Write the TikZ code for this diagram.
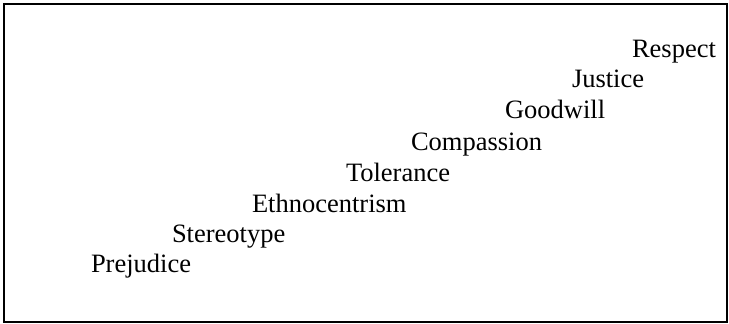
\documentclass[tikz,border=0pt]{standalone}
\usepackage{fontspec}
\setmainfont{Liberation Serif}
\usetikzlibrary{positioning}

\begin{document}
\begin{tikzpicture}[
                x = 1pt,
                y = -1pt,
                word/.style = {
                    anchor = base west,
                    inner sep = 0pt,
                    outer sep = 0pt,
                    font = \fontsize{26.5}{30}\selectfont
                },
                frame/.style = {
                    draw,
                    line width = 2pt
                }
            ]
            \useasboundingbox (0,0) rectangle (729,324);
            \draw[frame] (3.8,3.6) rectangle (727.4,322.4);
            % 
            \node[word] (prejudice) at (91,272) {Prejudice};
            \node[word] (stereotype) at (172,242) {Stereotype};
            \node[word] (ethno) at (252,212) {Ethnocentrism};
            % 
            \node[word] (tolerance) at (346,181) {Tolerance};
            \node[word] (compassion) at (411,150) {Compassion};
            % 
            \node[word] (goodwill) at (505,118) {Goodwill};
            \node[word] (justice) at (572,87) {Justice};
            \node[word] (respect) at (632,57) {Respect};
            % 
        \end{tikzpicture}
\end{document}
